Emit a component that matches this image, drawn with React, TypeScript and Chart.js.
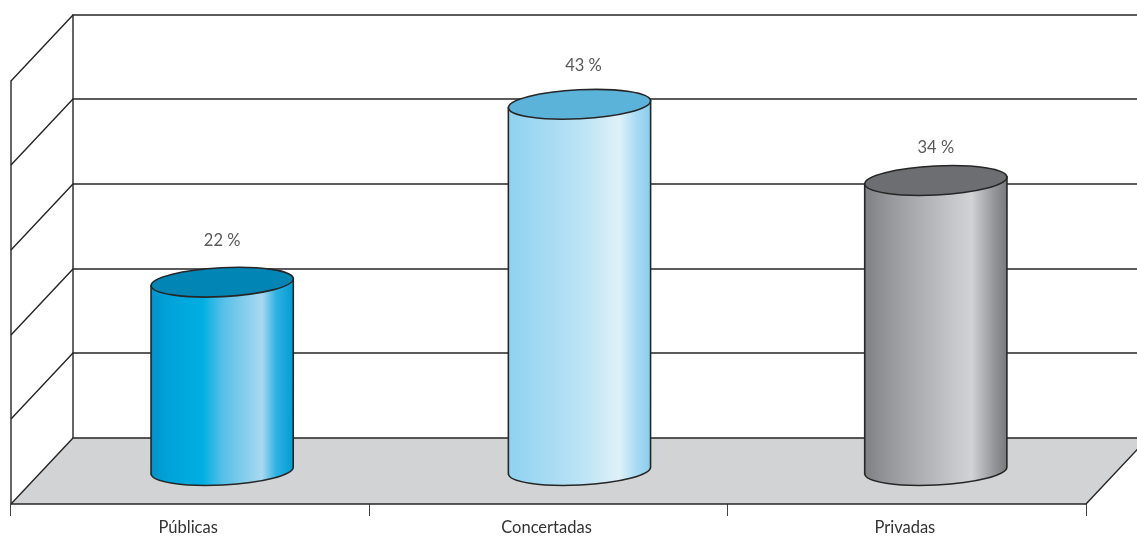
import React, { useEffect, useRef } from "react";
import { Chart, registerables } from "chart.js";

Chart.register(...registerables);

const categories = ["Públicas", "Concertadas", "Privadas"];
const values = [22, 43, 34];
const valueLabels = ["22 %", "43 %", "34 %"];
const tickValues = [0, 10, 20, 30, 40, 50];
const topColors = ["#0085b5", "#5cb3d9", "#6d6e71"];
const bodyStops: [number, string][][] = [
  [[0, "#0093c9"], [0.12, "#00a3d9"], [0.36, "#00aee2"], [0.5, "#55bfe8"], [0.78, "#a9d9f1"], [0.88, "#2fb1e2"], [1, "#009dd3"]],
  [[0, "#8fd2f0"], [0.25, "#a4daf3"], [0.55, "#bfe5f6"], [0.78, "#dff1f9"], [0.9, "#a8dbf3"], [1, "#8accec"]],
  [[0, "#7e8083"], [0.15, "#939598"], [0.45, "#b3b5b8"], [0.75, "#d1d3d5"], [0.9, "#97999c"], [1, "#77797c"]],
];

const DEPTH_X = 62;
const DEPTH_Y = -66;
const INK = "#262626";
const FLOOR = "#d1d3d4";
const LABEL_GAP = [41, 39, 32.5];
const LABEL_NUDGE = [0, 4, 0];
const BAR_NUDGE = [1, 0, -2];

const scenePlugin = {
  id: "scene3d",
  beforeDatasetsDraw(chart: any) {
    const { ctx, chartArea, scales, width } = chart;
    const { left, right, bottom } = chartArea;
    const y = scales.y;
    ctx.save();
    ctx.beginPath();
    ctx.moveTo(left, bottom);
    ctx.lineTo(right, bottom);
    ctx.lineTo(right + DEPTH_X, bottom + DEPTH_Y);
    ctx.lineTo(width, bottom + DEPTH_Y);
    ctx.lineTo(left + DEPTH_X, bottom + DEPTH_Y);
    ctx.closePath();
    ctx.fillStyle = FLOOR;
    ctx.fill();

    ctx.strokeStyle = INK;
    ctx.lineWidth = 1.4;
    tickValues.forEach((t) => {
      const py = Math.round(y.getPixelForValue(t));
      ctx.beginPath();
      ctx.moveTo(left, py);
      ctx.lineTo(left + DEPTH_X, py + DEPTH_Y);
      ctx.lineTo(width, py + DEPTH_Y);
      ctx.stroke();
    });
    ctx.beginPath();
    ctx.moveTo(left, y.getPixelForValue(0));
    ctx.lineTo(left, y.getPixelForValue(50));
    ctx.moveTo(left + DEPTH_X, y.getPixelForValue(0) + DEPTH_Y);
    ctx.lineTo(left + DEPTH_X, y.getPixelForValue(50) + DEPTH_Y);
    ctx.moveTo(left, bottom);
    ctx.lineTo(right, bottom);
    ctx.lineTo(right + DEPTH_X, bottom + DEPTH_Y);
    ctx.stroke();
    ctx.restore();
  },
  afterDatasetsDraw(chart: any) {
    const { ctx } = chart;
    const meta = chart.getDatasetMeta(0);
    const tilt = 0.05;
    const ry = 14.5;
    meta.data.forEach((bar: any, i: number) => {
      const cx = bar.x + 31 + BAR_NUDGE[i];
      const rx = bar.width / 2;
      const topY = bar.y - 35.5;
      const baseY = bar.base - 33.5;
      const dy = rx * Math.sin(tilt);
      const grad = ctx.createLinearGradient(cx - rx, 0, cx + rx, 0);
      bodyStops[i].forEach(([o, c]) => grad.addColorStop(o, c));
      ctx.save();
      ctx.lineWidth = 1.6;
      ctx.strokeStyle = INK;
      ctx.beginPath();
      ctx.moveTo(cx - rx, topY + dy);
      ctx.lineTo(cx - rx, baseY + dy);
      ctx.ellipse(cx, baseY, rx, ry, -tilt, Math.PI, 0, true);
      ctx.lineTo(cx + rx, topY - dy);
      ctx.closePath();
      ctx.fillStyle = grad;
      ctx.fill();
      ctx.stroke();
      ctx.beginPath();
      ctx.ellipse(cx, topY, rx, ry, -tilt, 0, Math.PI * 2);
      ctx.fillStyle = topColors[i];
      ctx.fill();
      ctx.stroke();
      ctx.fillStyle = "#58595b";
      ctx.font = "400 16.5px Lato";
      ctx.textAlign = "center";
      ctx.textBaseline = "middle";
      ctx.fillText(valueLabels[i], cx + LABEL_NUDGE[i], topY - LABEL_GAP[i]);
      ctx.restore();
    });
  },
};

export default function App() {
  const ref = useRef<HTMLCanvasElement>(null);
  useEffect(() => {
    const chart = new Chart(ref.current!, {
      type: "bar",
      data: {
        labels: categories,
        datasets: [
          {
            data: values,
            backgroundColor: "rgba(0,0,0,0)",
            borderWidth: 0,
            barPercentage: 1,
            categoryPercentage: 0.397,
          },
        ],
      },
      options: {
        responsive: false,
        animation: false,
        layout: { padding: { left: 11, right: 51, top: 80.5, bottom: 0 } },
        plugins: { legend: { display: false }, title: { display: false }, tooltip: { enabled: false } },
        scales: {
          x: {
            offset: true,
            border: { display: false },
            grid: { offset: true, drawOnChartArea: false, drawTicks: true, tickLength: 12, color: "#444", lineWidth: 1 },
            ticks: { color: "#333", font: { family: "Lato", size: 16.5 }, padding: 2, maxRotation: 0, labelOffset: -2 },
            afterFit: (s: any) => {
              s.height = 32;
            },
          },
          y: { display: false, min: 0, max: 50, ticks: { stepSize: 10 } },
        },
      },
      plugins: [scenePlugin],
    } as any);
    return () => chart.destroy();
  }, []);
  return (
    <canvas
      ref={ref}
      width={1137}
      height={536}
      style={{ position: "fixed", left: 0, top: 0, width: 1137, height: 536, background: "#fff" }}
    />
  );
}
